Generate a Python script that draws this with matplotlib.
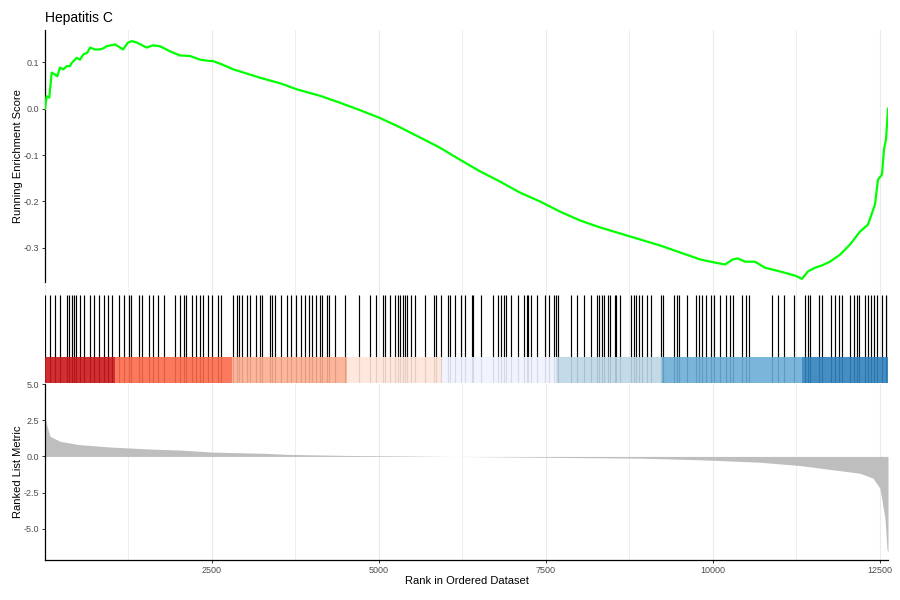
import numpy as np
import matplotlib
matplotlib.use("Agg")
import matplotlib.pyplot as plt
from matplotlib.ticker import MultipleLocator

plt.rcParams['font.family'] = ['Liberation Sans', 'DejaVu Sans']
plt.rcParams['axes.unicode_minus'] = False

title = "Hepatitis C"
n_genes = 12620

# Running enrichment score curve (rank, score)
es_rank = [0, 25, 64, 100, 150, 184, 225, 274, 325, 374, 400, 475, 524, 573, 633, 674,
           749, 823, 868, 924, 1048, 1168, 1243, 1298, 1373, 1522, 1617, 1722, 1871,
           2021, 2171, 2320, 2470, 2515, 2645, 2819, 3019, 3219, 3319, 3518, 3618, 3768,
           4117, 4416, 4716, 5015, 5314, 5614, 5913, 6213, 6512, 6811, 7111, 7410, 7710,
           8009, 8308, 8608, 8907, 9207, 9506, 9805, 10030, 10180, 10299, 10374, 10479,
           10629, 10778, 11003, 11228, 11332, 11422, 11527, 11632, 11751, 11901, 12051,
           12201, 12320, 12425, 12470, 12530, 12560, 12590, 12605, 12620]
es_value = [0.0, 0.027, 0.024, 0.078, 0.074, 0.070, 0.089, 0.085, 0.092, 0.092, 0.099,
            0.110, 0.106, 0.117, 0.121, 0.132, 0.128, 0.128, 0.130, 0.135, 0.139, 0.128,
            0.143, 0.146, 0.143, 0.132, 0.137, 0.135, 0.124, 0.115, 0.114, 0.106, 0.103,
            0.103, 0.096, 0.085, 0.076, 0.067, 0.063, 0.055, 0.050, 0.042, 0.028, 0.013,
            -0.003, -0.020, -0.040, -0.062, -0.084, -0.110, -0.135, -0.157, -0.181,
            -0.200, -0.222, -0.241, -0.256, -0.269, -0.282, -0.295, -0.310, -0.325,
            -0.332, -0.336, -0.325, -0.323, -0.330, -0.330, -0.343, -0.351, -0.360,
            -0.367, -0.351, -0.343, -0.338, -0.330, -0.315, -0.293, -0.265, -0.250,
            -0.207, -0.153, -0.142, -0.088, -0.066, -0.034, 0.0]

# Positions of gene-set members in the ranked list
hit_ranks = [5, 82, 150, 225, 329, 359, 404, 434, 464, 524, 584, 674, 734, 808, 883, 943,
             1003, 1108, 1183, 1257, 1287, 1407, 1452, 1557, 1617, 1692, 1781, 1946, 2021,
             2081, 2111, 2201, 2260, 2320, 2365, 2440, 2500, 2590, 2635, 2814, 2874, 2904,
             2949, 3024, 3069, 3159, 3219, 3249, 3368, 3398, 3443, 3533, 3623, 3683, 3757,
             3832, 3892, 3952, 3997, 4057, 4117, 4147, 4222, 4251, 4341, 4491, 4701, 4865,
             4955, 5060, 5090, 5165, 5240, 5284, 5314, 5359, 5389, 5419, 5479, 5539, 5689,
             5823, 5853, 5928, 6033, 6063, 6138, 6228, 6287, 6392, 6407, 6527, 6707, 6781,
             6826, 6871, 6901, 6976, 7081, 7171, 7216, 7231, 7276, 7365, 7485, 7545, 7620,
             7650, 7680, 7874, 7964, 8069, 8174, 8264, 8294, 8338, 8368, 8428, 8458, 8533,
             8548, 8608, 8772, 8817, 8847, 8892, 8937, 9012, 9072, 9222, 9251, 9416, 9461,
             9491, 9611, 9746, 9790, 9835, 9895, 9970, 10015, 10105, 10195, 10254, 10299,
             10434, 10494, 10539, 10883, 10973, 11063, 11212, 11377, 11422, 11452, 11587,
             11632, 11766, 11826, 11886, 11931, 12051, 12111, 12156, 12186, 12275, 12320,
             12365, 12410, 12455, 12530, 12590, 12615]

# Colour ribbon segment boundaries (ranks) and colours
band_edges = [0, 1048, 2799, 4520, 5943, 7665, 9237, 11333, 12620]
band_colors = ['#CB181D', '#FB6A4A', '#FCAE91', '#FEE5D9', '#EFF3FF', '#BDD7E7',
               '#6BAED6', '#3182BD']

# Ranked list metric (rank, value)
metric_rank = [0, 25, 75, 225, 524, 973, 1572, 2021, 2500, 3323, 3623, 4500, 5500, 6140,
               7500, 8907, 9805, 10703, 11303, 12200, 12395, 12500, 12575, 12605, 12620]
metric_value = [2.78, 2.2, 1.39, 1.04, 0.81, 0.65, 0.51, 0.44, 0.30, 0.21, 0.14, 0.07,
                0.03, 0.0, -0.06, -0.12, -0.23, -0.40, -0.63, -1.16, -1.5, -2.2, -4.3,
                -6.4, -6.6]

es_ticks = [-0.3, -0.2, -0.1, 0.0, 0.1]
metric_ticks = [-5.0, -2.5, 0.0, 2.5, 5.0]
rank_ticks = [2500, 5000, 7500, 10000, 12500]

W, H = 900, 600
fig = plt.figure(figsize=(9, 6), dpi=100)

def box(x0, y0, x1, y1):
    return [x0 / W, 1 - y1 / H, (x1 - x0) / W, (y1 - y0) / H]

ax1 = fig.add_axes(box(45, 30, 888, 283))
ax2 = fig.add_axes(box(45, 283, 888, 383))
ax3 = fig.add_axes(box(45, 384, 888, 560))

grid_col = '#EBEBEB'
for ax in (ax1, ax2, ax3):
    ax.set_xlim(0, n_genes)
    ax.xaxis.set_major_locator(MultipleLocator(2500))
    ax.xaxis.set_minor_locator(MultipleLocator(1250))
    ax.grid(True, which='major', axis='x', color=grid_col, lw=0.8, zorder=0)
    ax.grid(True, which='minor', axis='x', color=grid_col, lw=0.6, zorder=0)
    ax.set_axisbelow(True)
    for s in ('top', 'right'):
        ax.spines[s].set_visible(False)
    ax.tick_params(axis='both', which='both', length=2.5, width=0.7, color='#333333',
                   labelsize=6.5, labelcolor='#4D4D4D', pad=2)
    ax.tick_params(axis='x', which='minor', length=0)

# Top panel: running ES
ax1.plot(es_rank, es_value, color='#00FF00', lw=1.6, zorder=3)
ax1.set_ylim(-0.376, 0.17)
ax1.set_yticks(es_ticks)
ax1.set_yticklabels([f"{v:.1f}" for v in es_ticks])
ax1.spines['bottom'].set_visible(False)
ax1.tick_params(axis='x', which='both', length=0, labelbottom=False)
ax1.spines['left'].set_linewidth(0.9)
ax1.set_ylabel("Running Enrichment Score", fontsize=8, color='black')
ax1.yaxis.set_label_coords(-0.0325, 0.5)
ax1.yaxis.label.set_va('center')
ax1.set_title(title, loc='left', fontsize=10, pad=6)

# Middle panel: hits + ribbon
ax2.set_ylim(0, 1.14)
ax2.vlines(hit_ranks, 0, 1, color='black', lw=0.85, zorder=2)
for i, c in enumerate(band_colors):
    ax2.fill_between([band_edges[i], band_edges[i + 1]], 0, 0.3, color=c, alpha=0.9,
                     lw=0, zorder=3)
for s in ('left', 'bottom'):
    ax2.spines[s].set_visible(False)
ax2.tick_params(axis='both', which='both', length=0, labelleft=False, labelbottom=False)

# Bottom panel: ranked list metric
ax3.fill_between(metric_rank, 0, metric_value, color='#BEBEBE', lw=0, zorder=2)
ax3.set_ylim(-7.15, 5.0)
ax3.set_yticks(metric_ticks)
ax3.set_yticklabels([f"{v:.1f}" for v in metric_ticks])
ax3.set_xticks(rank_ticks)
ax3.set_xticklabels([str(v) for v in rank_ticks])
ax3.spines['left'].set_linewidth(0.9)
ax3.spines['bottom'].set_linewidth(0.9)
ax3.set_ylabel("Ranked List Metric", fontsize=8, color='black')
ax3.yaxis.set_label_coords(-0.0325, 0.5)
ax3.yaxis.label.set_va('center')
ax3.set_xlabel("Rank in Ordered Dataset", fontsize=8, color='black')
ax3.xaxis.set_label_coords(0.5, -0.12)
ax3.xaxis.label.set_va('center')

fig.savefig("out.png", dpi=100)
